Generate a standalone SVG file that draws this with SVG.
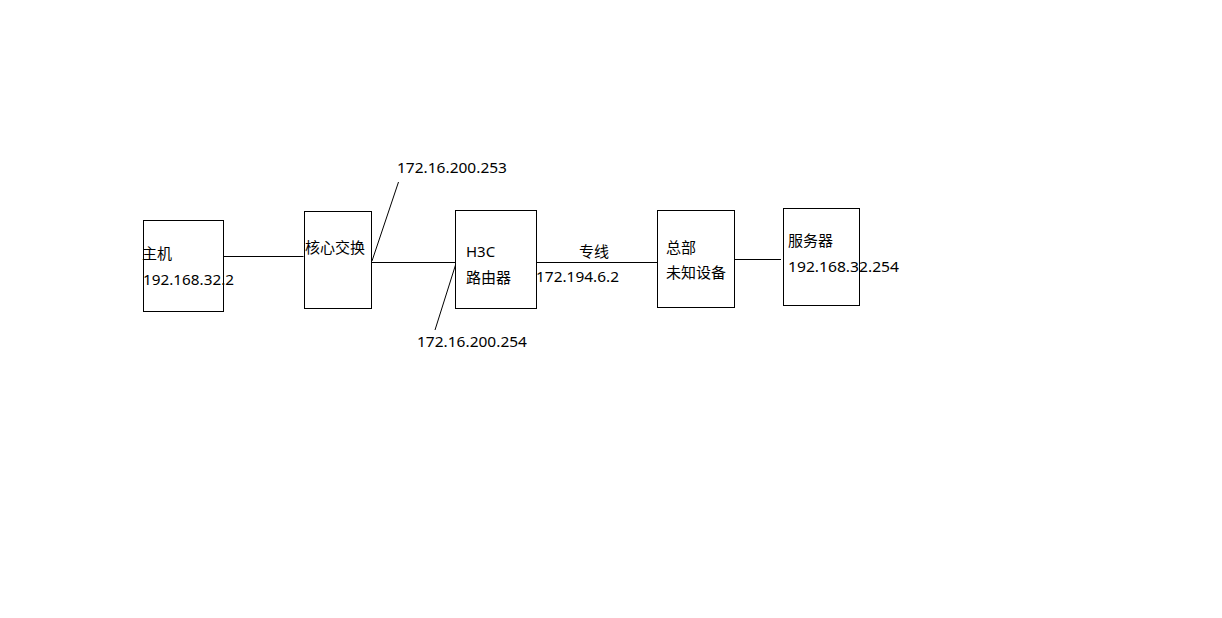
<svg xmlns="http://www.w3.org/2000/svg" width="1222" height="618" viewBox="0 0 1222 618">
<style>
.box{fill:#fff;stroke:#000;stroke-width:1}
.ln{stroke:#000;stroke-width:1;fill:none}
text{font-family:"Noto Sans","Noto Sans CJK SC",sans-serif;font-size:15px;fill:#000}
</style>
<rect width="1222" height="618" fill="#fff"/>
<g id="connectors">
<line class="ln" x1="223.5" y1="256.5" x2="303.5" y2="256.5"/>
<line class="ln" x1="371.5" y1="262.5" x2="455.5" y2="262.5"/>
<line class="ln" x1="536.5" y1="262.5" x2="657.5" y2="262.5"/>
<line class="ln" x1="734.5" y1="259.5" x2="781" y2="259.5"/>
<line class="ln" x1="372" y1="261" x2="398.5" y2="182"/>
<line class="ln" x1="455.5" y1="265" x2="435" y2="330"/>
</g>
<g id="host">
<rect class="box" x="143.5" y="220.5" width="80" height="91"/>
<text x="142" y="259">主机</text>
<text x="143" y="284.5" textLength="91" lengthAdjust="spacingAndGlyphs">192.168.32.2</text>
</g>
<g id="core">
<rect class="box" x="304.5" y="211.5" width="67" height="97"/>
<text x="305" y="252.5">核心交换</text>
</g>
<g id="router">
<rect class="box" x="455.5" y="210.5" width="81" height="98"/>
<text x="466" y="257">H3C</text>
<text x="466" y="282.5">路由器</text>
</g>
<g id="hq">
<rect class="box" x="657.5" y="210.5" width="77" height="97"/>
<text x="666" y="253">总部</text>
<text x="666" y="278">未知设备</text>
</g>
<g id="server">
<rect class="box" x="783.5" y="208.5" width="76" height="97"/>
<text x="788" y="246">服务器</text>
<text x="788" y="271.5" textLength="111" lengthAdjust="spacingAndGlyphs">192.168.32.254</text>
</g>
<g id="labels">
<text x="397" y="173" textLength="110" lengthAdjust="spacingAndGlyphs">172.16.200.253</text>
<text x="417" y="347" textLength="110" lengthAdjust="spacingAndGlyphs">172.16.200.254</text>
<text x="579" y="256.5">专线</text>
<text x="536" y="282" textLength="83" lengthAdjust="spacingAndGlyphs">172.194.6.2</text>
</g>
</svg>
